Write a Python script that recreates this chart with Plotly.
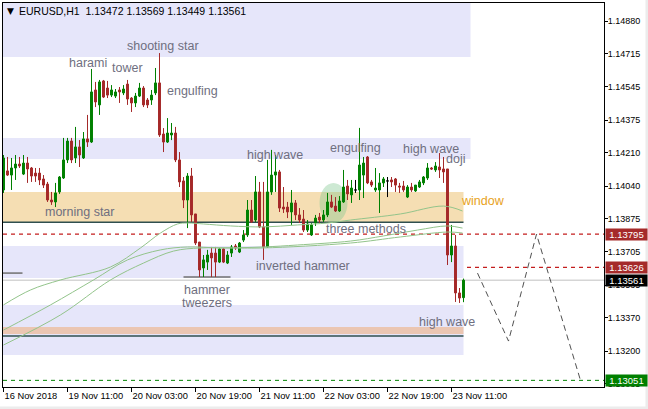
import plotly.graph_objects as go

# ---------------- data (EURUSD H1, bars 16 Nov 2018 19:00 .. 23 Nov 2018 14:00) ----------------
opens = [1.14020, 1.14117, 1.14096, 1.14132, 1.14152, 1.14101, 1.14157, 1.14132, 1.14106, 1.14106,
         1.14076, 1.14050, 1.13969, 1.13959, 1.14010, 1.14081, 1.14173, 1.14269, 1.14183, 1.14239,
         1.14183, 1.14280, 1.14264, 1.14529, 1.14453, 1.14575, 1.14539, 1.14503, 1.14498, 1.14529,
         1.14514, 1.14559, 1.14488, 1.14463, 1.14498, 1.14539, 1.14478, 1.14478, 1.14514, 1.14565,
         1.14305, 1.14264, 1.14300, 1.14310, 1.14173, 1.14066, 1.13969, 1.14091, 1.13898, 1.13755,
         1.13623, 1.13653, 1.13699, 1.13699, 1.13653, 1.13720, 1.13648, 1.13699, 1.13735, 1.13704,
         1.13765, 1.13791, 1.13918, 1.13867, 1.14010, 1.13832, 1.13730, 1.14010, 1.14096, 1.14112,
         1.13933, 1.13933, 1.13908, 1.13954, 1.13893, 1.13872, 1.13816, 1.13791, 1.13852, 1.13882,
         1.13867, 1.13893, 1.13959, 1.13938, 1.13913, 1.13959, 1.14040, 1.13995, 1.14020, 1.14020,
         1.14096, 1.14188, 1.14061, 1.14020, 1.14020, 1.14056, 1.14066, 1.14071, 1.14076, 1.14040,
         1.14040, 1.13984, 1.14035, 1.14015, 1.14035, 1.14056, 1.14081, 1.14132, 1.14122, 1.14137,
         1.14127, 1.14127, 1.13689, 1.13735, 1.13496, 1.13472]
highs = [1.14198, 1.14188, 1.14183, 1.14198, 1.14188, 1.14198, 1.14188, 1.14137, 1.14132, 1.14132,
         1.14096, 1.14061, 1.14010, 1.14056, 1.14091, 1.14285, 1.14285, 1.14285, 1.14341, 1.14274,
         1.14315, 1.14402, 1.14636, 1.14570, 1.14580, 1.14580, 1.14575, 1.14554, 1.14534, 1.14544,
         1.14554, 1.14580, 1.14493, 1.14514, 1.14565, 1.14549, 1.14488, 1.14529, 1.14641, 1.14717,
         1.14335, 1.14386, 1.14361, 1.14341, 1.14213, 1.14086, 1.14106, 1.14132, 1.13898, 1.13755,
         1.13689, 1.13715, 1.13730, 1.13730, 1.13725, 1.13725, 1.13709, 1.13740, 1.13745, 1.13755,
         1.13816, 1.13969, 1.13969, 1.14091, 1.14061, 1.14061, 1.14173, 1.14224, 1.14198, 1.14122,
         1.14035, 1.13959, 1.14020, 1.13969, 1.13928, 1.13918, 1.13867, 1.13852, 1.13893, 1.13903,
         1.13918, 1.14005, 1.13995, 1.13984, 1.13989, 1.14122, 1.14071, 1.14071, 1.14071, 1.14336,
         1.14188, 1.14193, 1.14071, 1.14132, 1.14106, 1.14086, 1.14086, 1.14086, 1.14081, 1.14056,
         1.14066, 1.14045, 1.14056, 1.14045, 1.14071, 1.14091, 1.14157, 1.14137, 1.14162, 1.14208,
         1.14188, 1.14127, 1.13842, 1.13791, 1.13521, 1.13569]
lows = [1.14005, 1.14091, 1.14020, 1.14071, 1.14132, 1.14096, 1.14056, 1.14061, 1.14061, 1.14045,
        1.14030, 1.13959, 1.13944, 1.13933, 1.14000, 1.14076, 1.14157, 1.14157, 1.14157, 1.14137,
        1.14178, 1.14239, 1.14259, 1.14442, 1.14402, 1.14488, 1.14488, 1.14493, 1.14488, 1.14463,
        1.14503, 1.14453, 1.14417, 1.14442, 1.14493, 1.14442, 1.14437, 1.14453, 1.14503, 1.14290,
        1.14213, 1.14259, 1.14274, 1.14162, 1.14035, 1.13928, 1.13826, 1.13857, 1.13740, 1.13577,
        1.13577, 1.13613, 1.13577, 1.13577, 1.13648, 1.13648, 1.13643, 1.13679, 1.13715, 1.13699,
        1.13755, 1.13781, 1.13852, 1.13857, 1.13826, 1.13664, 1.13725, 1.13995, 1.14010, 1.13908,
        1.13903, 1.13877, 1.13842, 1.13867, 1.13852, 1.13806, 1.13806, 1.13786, 1.13837, 1.13852,
        1.13857, 1.13882, 1.13928, 1.13908, 1.13908, 1.13954, 1.13969, 1.13954, 1.14005, 1.13969,
        1.13979, 1.14050, 1.14035, 1.14010, 1.13903, 1.14035, 1.13984, 1.14035, 1.14010, 1.14005,
        1.14010, 1.13979, 1.14010, 1.14010, 1.14030, 1.14045, 1.14071, 1.14122, 1.14112, 1.14081,
        1.14056, 1.13638, 1.13653, 1.13450, 1.13445, 1.13449]
closes = [1.14183, 1.14096, 1.14132, 1.14152, 1.14142, 1.14157, 1.14127, 1.14091, 1.14091, 1.14071,
          1.14045, 1.13969, 1.13959, 1.14005, 1.14086, 1.14173, 1.14269, 1.14173, 1.14239, 1.14198,
          1.14280, 1.14264, 1.14519, 1.14468, 1.14570, 1.14493, 1.14503, 1.14529, 1.14519, 1.14519,
          1.14534, 1.14483, 1.14463, 1.14498, 1.14539, 1.14453, 1.14453, 1.14503, 1.14565, 1.14300,
          1.14264, 1.14310, 1.14310, 1.14173, 1.14061, 1.13969, 1.14091, 1.13893, 1.13750, 1.13613,
          1.13664, 1.13689, 1.13674, 1.13653, 1.13720, 1.13653, 1.13689, 1.13730, 1.13725, 1.13750,
          1.13791, 1.13918, 1.13857, 1.14010, 1.13832, 1.13730, 1.14010, 1.14096, 1.14112, 1.13928,
          1.13923, 1.13908, 1.13954, 1.13893, 1.13867, 1.13816, 1.13847, 1.13842, 1.13877, 1.13867,
          1.13893, 1.13959, 1.13933, 1.13913, 1.13964, 1.14035, 1.14000, 1.14030, 1.14020, 1.14147,
          1.14157, 1.14056, 1.14045, 1.14030, 1.14056, 1.14076, 1.14066, 1.14061, 1.14045, 1.14035,
          1.14020, 1.14035, 1.14020, 1.14045, 1.14061, 1.14086, 1.14132, 1.14127, 1.14142, 1.14122,
          1.14112, 1.13689, 1.13735, 1.13496, 1.13470, 1.13561]
bars = list(range(len(opens)))

tick_bars = [0, 16, 32, 48, 64, 80, 96, 112]
tick_labels = ["16 Nov 2018", "19 Nov 11:00", "20 Nov 03:00", "20 Nov 19:00",
               "21 Nov 11:00", "22 Nov 03:00", "22 Nov 19:00", "23 Nov 11:00"]
price_ticks = [1.14880, 1.14715, 1.14545, 1.14375, 1.14210, 1.14040, 1.13875,
               1.13705, 1.13535, 1.13370, 1.13200, 1.13035]

# moving averages (bar index, price)
ma1_bars = [0, 6.75, 14.25, 26.75, 34.25, 39.25, 43.5, 46, 50, 56.75, 65, 73.5, 81, 86.75, 99.25, 110, 114.75]
ma1_vals = [1.13435, 1.13511, 1.13562, 1.13628, 1.13725, 1.13801, 1.13847, 1.13852, 1.13847,
            1.13837, 1.13832, 1.13842, 1.13852, 1.13867, 1.13898, 1.13938, 1.13913]
ma2_bars = [0, 11.75, 22.5, 31, 39.25, 46, 54.25, 65, 73.5, 86.75, 95, 103.5, 111, 114.75]
ma2_vals = [1.13307, 1.13435, 1.13562, 1.13664, 1.13715, 1.13730, 1.13725, 1.13730, 1.13740,
            1.13760, 1.13786, 1.13816, 1.13837, 1.13826]
ma3_bars = [0, 14.25, 26.75, 35, 42.5, 49.25, 57.5, 65, 86.75, 99.25, 111, 114.75]
ma3_vals = [1.13231, 1.13384, 1.13562, 1.13648, 1.13709, 1.13725, 1.13725, 1.13725, 1.13750,
            1.13781, 1.13806, 1.13801]

# zones: (from bar, to bar, low, high, colour)
zones = [
    (-1, 116.75, 1.14697, 1.15100, "#e6e6fa"),
    (-1, 116.75, 1.14178, 1.14285, "#e6e6fa"),
    (-1, 115.0, 1.13857, 1.14010, "#f5deb3"),
    (-1, 115.0, 1.13572, 1.13735, "#e6e6fa"),
    (-1, 115.0, 1.13180, 1.13435, "#e6e6fa"),
    (-1, 115.0, 1.13287, 1.13323, "#ebc6b2"),
]
# solid horizontal segments: (from bar, to bar, price, colour, width)
segments = [
    (-1, 115.0, 1.13856, "#2f4f4f", 1.5),
    (-1, 115.0, 1.13277, "#2f4f4f", 1.5),
    (-1, 4.75, 1.13597, "#707070", 1.5),
    (45, 56.75, 1.13577, "#707070", 1.5),
]
resist_levels = [1.13795, 1.13626]
bid_price = 1.13561
target_price = 1.13051

# projected path (dashed zig-zag)
proj_bars = [118.5, 126.25, 133.25, 144.25]
proj_vals = [1.13597, 1.13251, 1.13795, 1.13051]

# ---------------- geometry ----------------
W, H = 648, 409
L, R, T, B = 3, 44, 3, 22
PW, PH = W - L - R, H - T - B
X0 = -0.125
X1 = X0 + PW / 4.0
Y_TOP, Y_PX_K = 1.14987, 0.0000509          # price at image y=0, price per pixel
Y1 = Y_TOP - Y_PX_K * T
Y0 = Y_TOP - Y_PX_K * (T + PH)


def pxx(x):
    return (x - L) / PW


def pxy(y):
    return (T + PH - y) / PH


FONT = "Liberation Sans"
GREEN = "#008000"
RED = "#a52a2a"
LABEL_GRAY = "#6f6f7f"

fig = go.Figure()

# moving averages
for bx, vy in [(ma1_bars, ma1_vals), (ma2_bars, ma2_vals), (ma3_bars, ma3_vals)]:
    fig.add_trace(go.Scatter(x=bx, y=vy, mode="lines", line=dict(color="#93c48b", width=1, shape="spline"),
                             hoverinfo="skip", showlegend=False))

# candles
norm = [i for i in bars if opens[i] != closes[i]]
doji = [i for i in bars if opens[i] == closes[i]]
fig.add_trace(go.Candlestick(
    x=norm, open=[opens[i] for i in norm], high=[highs[i] for i in norm],
    low=[lows[i] for i in norm], close=[closes[i] for i in norm],
    increasing=dict(line=dict(color=GREEN, width=1), fillcolor=GREEN),
    decreasing=dict(line=dict(color=RED, width=1), fillcolor=RED),
    whiskerwidth=0, showlegend=False))
fig.add_trace(go.Candlestick(
    x=doji, open=[opens[i] for i in doji], high=[highs[i] for i in doji],
    low=[lows[i] for i in doji], close=[closes[i] for i in doji],
    increasing=dict(line=dict(color="black", width=1), fillcolor="black"),
    decreasing=dict(line=dict(color="black", width=1), fillcolor="black"),
    whiskerwidth=0, showlegend=False))

# projection
fig.add_trace(go.Scatter(x=proj_bars, y=proj_vals, mode="lines",
                         line=dict(color="#505050", width=1, dash="6px,4px"),
                         hoverinfo="skip", showlegend=False))

shapes = []
for x0, x1, lo, hi, col in zones:
    shapes.append(dict(type="rect", xref="x", yref="y", x0=x0, x1=x1, y0=lo, y1=hi,
                       fillcolor=col, line=dict(width=0), layer="below"))
for x0, x1, p, col, w in segments:
    shapes.append(dict(type="line", xref="x", yref="y", x0=x0, x1=x1, y0=p, y1=p,
                       line=dict(color=col, width=w), layer="below"))
for p in resist_levels:
    shapes.append(dict(type="line", xref="paper", yref="y", x0=0, x1=1, y0=p, y1=p,
                       line=dict(color="#c41e1e", width=1.2, dash="4px,4px"), layer="below"))
shapes.append(dict(type="line", xref="paper", yref="y", x0=0, x1=1, y0=bid_price, y1=bid_price,
                   line=dict(color="#c0c0c0", width=1), layer="below"))
shapes.append(dict(type="line", xref="paper", yref="y", x0=0, x1=1, y0=target_price, y1=target_price,
                   line=dict(color=GREEN, width=1, dash="4px,4px"), layer="below"))
# three-methods highlight ellipse
shapes.append(dict(type="circle", xref="x", yref="y", x0=79, x1=86, y0=1.13852, y1=1.14056,
                   fillcolor="rgba(130,200,145,0.40)", line=dict(width=0), layer="below"))
# window frame strips (right and bottom edge)
shapes.append(dict(type="rect", xref="paper", yref="paper", x0=pxx(645.5), x1=pxx(650),
                   y0=pxy(410), y1=pxy(-1), fillcolor="#ececec", line=dict(width=0), layer="above"))
shapes.append(dict(type="rect", xref="paper", yref="paper", x0=pxx(-1), x1=pxx(650),
                   y0=pxy(410), y1=pxy(406.5), fillcolor="#ececec", line=dict(width=0), layer="above"))

annotations = []
pattern_labels = [
    ("harami", 88, 63, LABEL_GRAY), ("tower", 127, 68, LABEL_GRAY),
    ("shooting star", 163, 46, LABEL_GRAY), ("engulfing", 192, 91, LABEL_GRAY),
    ("morning star", 79, 212, LABEL_GRAY), ("high wave", 275, 155, LABEL_GRAY),
    ("engulfing", 355, 148, LABEL_GRAY), ("high wave", 431, 149, LABEL_GRAY),
    ("doji", 455, 159, LABEL_GRAY), ("window", 483, 201, "#e8a21c"),
    ("three methods", 366, 229, LABEL_GRAY), ("inverted hammer", 303, 266, LABEL_GRAY),
    ("hammer", 207, 290, LABEL_GRAY), ("tweezers", 207, 303, LABEL_GRAY),
    ("high wave", 447, 322, LABEL_GRAY),
]
for txt, cx, cy, col in pattern_labels:
    annotations.append(dict(text=txt, xref="paper", yref="paper", x=pxx(cx), y=pxy(cy),
                            xanchor="center", yanchor="middle", showarrow=False,
                            font=dict(family=FONT, size=12.5, color=col)))

price_tags = [(1.13795, RED), (1.13626, RED), (bid_price, "black"), (target_price, GREEN)]
for p, bg in price_tags:
    annotations.append(dict(text=f"{p:.5f}", xref="paper", yref="y", x=1, y=p, xshift=1,
                            xanchor="left", yanchor="middle", showarrow=False, bgcolor=bg,
                            width=41, height=11, borderpad=0,
                            font=dict(family=FONT, size=9.5, color="white")))

annotations.append(dict(text="▼", xref="paper", yref="paper", x=pxx(5), y=pxy(11),
                        xanchor="left", yanchor="middle", showarrow=False,
                        font=dict(family="DejaVu Sans", size=9, color="black")))
annotations.append(dict(text="EURUSD,H1  1.13472 1.13569 1.13449 1.13561", xref="paper", yref="paper",
                        x=pxx(17), y=pxy(11), xanchor="left", yanchor="middle", showarrow=False,
                        font=dict(family=FONT, size=10.5, color="black")))

fig.update_layout(
    width=W, height=H, margin=dict(l=L, r=R, t=T, b=B, autoexpand=False),
    paper_bgcolor="white", plot_bgcolor="white",
    shapes=shapes, annotations=annotations, showlegend=False,
    xaxis=dict(range=[X0, X1], tickvals=tick_bars, ticktext=tick_labels, showgrid=False,
               zeroline=False, showline=True, linecolor="black", linewidth=1, mirror=True,
               ticks="outside", ticklen=4, tickcolor="black", ticklabelposition="outside right",
               tickangle=0, automargin=False,
               tickfont=dict(family=FONT, size=9.3, color="black"),
               rangeslider=dict(visible=False), fixedrange=True),
    yaxis=dict(range=[Y0, Y1], side="right", tickvals=price_ticks, automargin=False,
               ticktext=[f"{v:.5f}" for v in price_ticks], showgrid=False, zeroline=False,
               showline=True, linecolor="black", linewidth=1, mirror=True,
               ticks="outside", ticklen=3, tickcolor="black", ticklabelstandoff=-2,
               tickfont=dict(family=FONT, size=9, color="black"), fixedrange=True),
)

fig.write_html("out.html", config=dict(displayModeBar=False),
               post_script="document.body.style.margin='0';document.body.style.padding='0';"
                           "document.body.style.overflow='hidden';")
